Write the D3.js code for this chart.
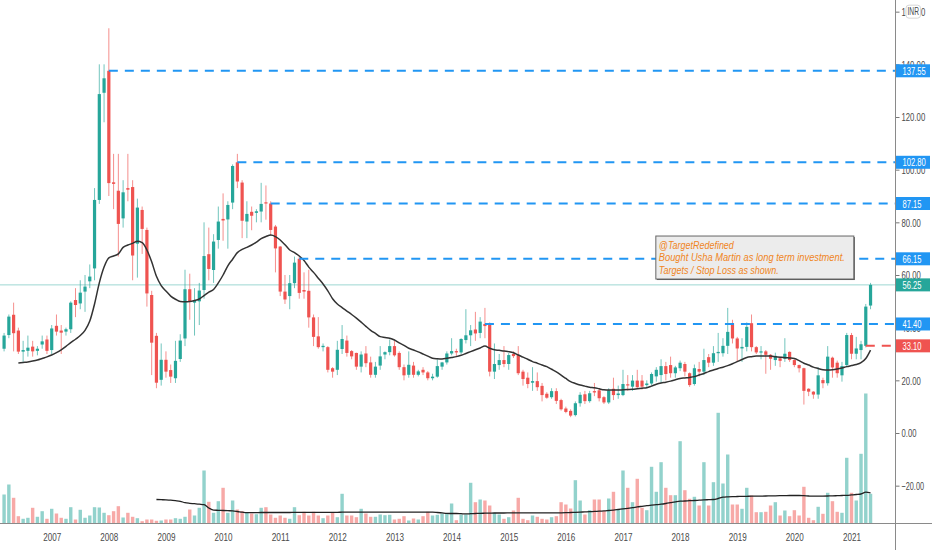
<!DOCTYPE html>
<html>
<head>
<meta charset="utf-8">
<script src="https://cdn.jsdelivr.net/npm/d3@7"></script>
<style>
body { margin: 0; background: #fff; }
svg { display: block; }
.axis text { font-family: "Liberation Sans", Arial, sans-serif; fill: #4a4a4a; }
</style>
</head>
<body>
<svg width="932" height="550"></svg>
<script>
// monthly candles, Mar 2006 .. May 2021
var firstMonth = new Date(2006, 2, 1);

var open = [32,37.2,44.9,38.9,30.9,31.2,32.8,31.2,33.6,35.5,
	31.5,40.7,38.9,38.5,39.4,50.5,49.2,53.7,57.6,62.5,
	88.5,129.2,137.55,95.2,92,81.5,93,93.4,71.9,84.7,
	77.1,52.4,36.9,20.2,27.8,23.9,20.8,28.1,35.9,54.6,
	49.5,50,54.3,67.9,61.9,73.3,81.3,81.1,87.5,102.8,
	95.1,80.3,84,83.6,84.1,87.6,87.15,78.4,70.8,53.7,
	52,56.9,66.15,54.3,54,43.9,36.7,32.6,32.6,24.6,
	24,31.9,35.1,31.1,30.4,25.2,30.2,26.8,22.1,25.6,
	29.8,30.7,33,30.4,25,22.1,25.6,22.1,24,23,
	20.8,21.4,25.2,26.8,30.2,31.1,30.6,35.3,37.1,39.3,
	38,41.4,41.4,23.3,25.8,27.7,26.2,30,29.6,23.3,
	21,19.1,19.7,17.9,14.9,13.6,15.9,12.5,9.3,8.4,
	6.8,11.3,14.7,12.1,15.9,16.2,13.6,11.6,16.8,14.4,
	14.4,18.5,17.6,19.9,19.9,18.2,18.8,21.5,22,25.4,
	25.8,22.7,24.6,26.2,22.7,18.6,24.3,23.3,28.8,26.7,
	30.3,30.3,33.1,41.7,35.9,32.1,32.7,41.7,32.6,30.6,
	31,29.7,27.7,28.4,28.2,30.8,27.7,25.8,24.6,16.8,
	15.7,14.6,20.1,18.9,28.6,26.7,21.9,25.8,37.2,30.1,
	31.5,33.1,48.4];

var high = [38,45,49.5,40,35,37,35,33,37,37,
	41,45,41,40,50,55,58,60,64,93,
	140,140,153.7,106,106,96,106,96,89,86,
	78,54,38,34,31,26,35,37.5,62,60.5,
	55,57,80,78,75.5,86,91,88,102,106,
	96,88,86,85,95,94,88,79,71,60,
	60,67,67,61,62,45,44,34,33,25,
	35,41,37,31.5,30.5,31,33,29,27,33,
	31,35.5,35,31,26,31,27,24,25,23.5,
	22.5,28,27,31,36,32,36,47,41,46,
	44,47.5,42,34,30,33,30.5,31,33,24,
	23,25,23,19,15.5,17,17,13,10,9,
	12,15.5,16,16,19,17,14,17,21,18,
	24,22,22,24,22,20,23,25,28,27,
	29,25.5,27.5,27,23,26,27,32,30,33,
	38,36,47.5,43,36.5,36,42,45,33,33,
	31.5,30,30.5,29,36,31,28,26,24.8,17,
	15.9,25,21,33,29,27.5,27,38,38,36.5,
	35,49,57];

var low = [31,36,31,30,27,29,29,29.5,32,30,
	30,37,30,37,38,44,47,46,55,58,
	87,118,90,85,67,78,88,58,59,68,
	48,22,17,18,21,19,19,27,33,43,
	37,41,51,58,57,70,73,70,85,93,
	74,74,77,80,80,81,75,61,52,49,
	47,55,51,51,40,33,32,31,23,21,
	22,30,29,28,24,23,25,21,21,24,
	28,29.5,29,24,20,21,21,21.5,22,20,
	20,21,24,26,29.5,29,30,34,33,35,
	36,36,21.5,20.5,24,25,24,28.5,22,18,
	17,16,16,12,13,13,11,8.5,7.5,6,
	6.3,10,11,11.5,14,12,11,11,12.5,13,
	14,16,16,17,16.5,17,18,19.5,19,20,
	21,21,23.5,21.5,17.5,18,21.5,22,25,25.5,
	27,29,30,34,27,27,31,31,30,28,
	22.5,24,25.5,25,27,27,25,23,10.8,14,
	13,13,17,18,21,21,19.5,25,28,28,
	28,32.5,47];

var close = [37,44.2,37.9,30.9,31.5,32.4,31,32,34.8,31.2,
	39.7,38.5,38.1,39.4,49.5,48.6,53.3,55.6,59.4,88.5,
	128.7,134.7,94.9,94.6,79.4,91.4,92.4,67.4,85.6,77.5,
	53,34.3,19.1,27.8,23.3,21.4,27.4,35.1,54.6,50,
	50.5,54.1,67.2,62.3,72.7,80.3,80.7,86.6,101.4,95.5,
	80.6,83.2,82.5,84.2,87,87.2,77.1,70.1,53.7,50.7,
	56.9,64.7,53.2,53.7,43.9,36.5,32.6,33.1,24,23.3,
	31.6,35.7,30.4,29.1,25.2,29.8,26.5,22.1,25.2,29.1,
	30.7,33,29.5,25,21.9,25.9,22.1,23.4,23,20.8,
	21.4,25.4,26.8,30.2,31.1,30.6,35.7,37.1,39,37.8,
	42.3,40.6,23.3,26.2,27.7,26.2,29.6,29.2,22.7,20.5,
	18.6,19.7,17.4,14.4,13.4,15.9,12.2,9,8,6.6,
	11.3,14.5,12.1,15.1,15.4,13.2,11.6,16.2,14.4,15,
	18.6,18.1,19.9,17.4,17.6,18.8,22.4,24,25.4,22.4,
	22.7,24.9,26.7,23.3,18.2,24.6,23.3,27.7,26.7,30.3,
	30.8,33.1,38.4,35.9,32.1,32.7,40.3,32.6,30.6,31,
	29.7,28.2,29.3,27.4,30.1,27.7,25.8,24.6,16,15.7,
	14.6,21.9,18.9,29,24.9,22.7,25.4,37.2,30.1,32.1,
	33.7,48,56.25];

var volume = [29,39,25.7,7.3,4.7,5.7,15.7,6.7,12.3,4.7,
	14.7,10,5.7,4.7,16.3,4,13.7,5.7,8,16.3,
	16,10.7,8.3,12.3,17.3,6,10.7,6.7,5.3,2.3,
	4,4,2.7,3,4,4,5.3,4.7,6.7,14,
	8,15.7,53,21.7,10.7,22.3,35.7,10.7,23,14,
	12.3,10.7,10,9.3,15.7,16.3,9,5.7,8,5.7,
	4.7,16.3,8.3,11.7,8,11.7,8,5.3,8,11.3,
	6.3,29.7,8,8,6.3,14.7,10,6.7,6.7,9,
	8.3,8.7,4,4.7,7.3,3,5,4,7.3,11.7,
	8,8.7,10,10,20,3.3,9,9,40.7,21.3,
	24,23,18,10.7,9,4.7,6.3,13,25.7,4.7,
	3.3,8,6.7,4.7,4,6.3,7.3,21.3,19,15,
	43.3,23,9,13.3,24,24,12.3,25,31.7,14,
	53,35.7,21.3,44.7,15.7,13.3,56.7,31.7,61.3,35.7,
	28.3,28.3,82.3,33.3,24.7,26.7,18,61.3,18,41.3,
	110.7,40,69,19,19,14.7,35.7,28,11.3,11.3,
	11.7,18,21.3,8,13,7.3,13.3,8,36.7,5.7,
	3.3,16.7,9.7,30.7,22.3,11.7,10.7,65.7,30.7,23,
	69.7,130,29.7];

// moving average of price
var priceMa = [null,null,null,26.6,26.8,27.0,27.3,27.7,28.3,28.9,
	29.6,30.5,31.6,32.9,34.3,35.6,37.0,39.0,42.5,49,
	57,63,66.5,67.2,68,70.5,71.4,72,72.8,72.3,
	69.5,65,59.5,56,53.9,52,50.8,49.9,49.8,49.9,
	50.3,50.9,52.2,53.5,54.5,57,60,63.5,66,68.5,
	69.7,70.5,71.4,72.5,73.8,74.6,75.2,74.6,73.3,71.5,
	69.5,68.5,67.2,65.5,63,61,58.8,56.6,54,51,
	49,47.6,46.3,45,43.6,42.1,40.5,39,37.8,36.6,
	36.3,36,35.3,34.2,33.3,32.2,31.5,30.8,30,29.2,
	28.4,28.2,28.1,28.4,28.7,29,29.5,30.2,30.9,31.6,
	32.3,33,32.2,31.6,31.4,31.1,30.9,30.5,29.6,28.8,
	28,27.1,26.5,25.8,25.2,24.2,23.2,22,20.7,19.5,
	18.8,18.2,17.8,17.4,17.2,16.8,16.4,16.3,16.3,16.3,
	16.4,16.5,16.6,16.8,17,17.2,17.8,18.5,19,19.3,
	19.7,20.2,20.7,20.9,21.1,21.4,22,22.6,23.3,23.9,
	24.5,25,25.6,26.3,27.1,27.9,28.7,29,29.2,29.2,
	29.2,29.2,29,28.8,28.6,28.5,28.3,27.5,26.5,25.8,
	25,24.5,24,23.9,24,24.3,24.7,25.2,25.6,26,
	26.7,28.3,31.5];

// moving average of volume, starts Nov 2008
var volMaStart = 32;
var volMa = [24,23.8,23.6,23.3,22.8,22.2,20.8,20.2,
	19.8,19.3,18.8,15.5,13.4,13.2,13,12.8,12.6,12,
	11.3,10.8,10.8,10.9,11,11,11,11,11,11,
	11,11.1,11.1,11.1,11.1,11.1,11.2,11.2,11.2,11.2,
	11.2,11.3,11.3,11.3,11.3,11.3,11.3,11.3,11.3,11.3,
	11.3,11.3,11.3,11.3,11.3,11.3,11.3,11.3,11.3,11.3,
	11.3,11,10.6,10.2,10,10,9.8,9.6,9.8,10,
	10.2,10.3,10.4,10.5,10.5,10.5,10.6,10.7,10.7,10.7,
	10.7,10.7,10.7,10.7,10.7,10.7,10.7,10.7,10.8,11,
	11.2,11.4,11.6,11.8,12.1,12.3,12.6,13,13.4,14,
	14.6,15.2,15.8,16.6,17.2,17.8,18.3,18.8,19.3,20,
	20.8,21.6,22.3,22.5,22.8,23,23.3,23.6,23.8,24,
	25,26.3,26.7,26.9,27,27.1,27.2,27.3,27.3,27.4,
	27.5,27.6,27.7,27.8,27.9,28,28,28,27.8,27.5,
	27.3,27.3,27.4,27.5,27.6,27.8,28,28.2,28.6,29,
	29.5,31.3,30.7];

// target levels (price, month index where the line starts)
var targets = [137.55, 102.80, 87.15, 66.15, 41.40];
var targetFrom = [22, 49, 56, 62, 101];
var stopLoss = 33.10, stopFrom = 181;
var lastPrice = 56.25;

var yTicks = [-20, 0, 20, 40, 60, 80, 100, 120, 140, 160];
var noteLines = ["@TargetRedefined", "Bought Usha Martin as long term investment.", "Targets / Stop Loss as shown."];
var noteWidths = [75, 186, 120];

var teal = "#26a69a", red = "#ef5350", blue = "#2196f3";

var svg = d3.select("svg"),
	width = +svg.attr("width"),
	height = +svg.attr("height"),
	axisX = 895.5,
	axisY = 523.5;

var x = d3.scaleLinear().domain([10, 178]).range([51.7, 851.5]);
var y = d3.scaleLinear().domain([0, 120]).range([433, 117]);
var vy = d3.scaleLinear().domain([0, 130]).range([axisY, axisY - 130]);

var data = open.map(function(o, i) {
	return {i: i, date: d3.timeMonth.offset(firstMonth, i), o: o, h: high[i], l: low[i], c: close[i], v: volume[i], ma: priceMa[i]};
});
function up(d) { return d.c >= d.o; }

// narrow the axis digits the way the chart font does
function squeeze(sel, digit) {
	sel.each(function() {
		var t = d3.select(this), s = t.text(), w = 0;
		for (var k = 0; k < s.length; k++) {
			w += s[k] === "." ? 1.7 : (s[k] === "\u2212" || s[k] === "-") ? 3.2 : digit;
		}
		t.attr("textLength", w).attr("lengthAdjust", "spacingAndGlyphs");
	});
}

// volume
svg.append("g").selectAll("rect")
	.data(data).enter().append("rect")
	.attr("x", function(d) { return x(d.i) - 1.7; })
	.attr("width", 3.4)
	.attr("y", function(d) { return vy(d.v); })
	.attr("height", function(d) { return vy(0) - vy(d.v); })
	.attr("fill", function(d) { return up(d) ? teal : red; })
	.attr("fill-opacity", 0.5);

var volLine = d3.line()
	.x(function(d, k) { return x(volMaStart + k); })
	.y(function(d) { return vy(d); })
	.curve(d3.curveMonotoneX);
svg.append("path").attr("d", volLine(volMa))
	.attr("fill", "none").attr("stroke", "#222").attr("stroke-width", 1.3);

// last price line
svg.append("line")
	.attr("x1", 0).attr("x2", axisX)
	.attr("y1", y(lastPrice)).attr("y2", y(lastPrice))
	.attr("stroke", teal).attr("stroke-opacity", 0.45).attr("stroke-width", 1);

// candles
var candle = svg.append("g").selectAll("g")
	.data(data).enter().append("g");
candle.append("line")
	.attr("x1", function(d) { return x(d.i); })
	.attr("x2", function(d) { return x(d.i); })
	.attr("y1", function(d) { return y(d.h); })
	.attr("y2", function(d) { return y(d.l); })
	.attr("stroke", function(d) { return up(d) ? teal : red; })
	.attr("stroke-opacity", 0.65)
	.attr("stroke-width", 1);
candle.append("rect")
	.attr("x", function(d) { return x(d.i) - 1.6; })
	.attr("width", 3.2)
	.attr("y", function(d) { return y(Math.max(d.o, d.c)); })
	.attr("height", function(d) { return Math.max(1.2, Math.abs(y(d.o) - y(d.c))); })
	.attr("fill", function(d) { return up(d) ? teal : red; });

// moving average
var maLine = d3.line()
	.defined(function(d) { return d.ma != null; })
	.x(function(d) { return x(d.i); })
	.y(function(d) { return y(d.ma); })
	.curve(d3.curveMonotoneX);
svg.append("path").attr("d", maLine(data))
	.attr("fill", "none").attr("stroke", "#333").attr("stroke-width", 1.5);

// target and stop loss lines
var levels = targets.map(function(t, k) { return {v: t, from: targetFrom[k], color: blue}; });
levels.push({v: stopLoss, from: stopFrom, color: red});
svg.append("g").selectAll("line")
	.data(levels).enter().append("line")
	.attr("x1", function(d) { return x(d.from); })
	.attr("x2", axisX)
	.attr("y1", function(d) { return y(d.v); })
	.attr("y2", function(d) { return y(d.v); })
	.attr("stroke", function(d) { return d.color; })
	.attr("stroke-width", 2)
	.attr("stroke-dasharray", "9,7");

// note box
var noteG = svg.append("g")
	.attr("transform", "translate(" + x(136.9) + "," + y(74.8) + ")");
noteG.append("rect")
	.attr("x", 1).attr("y", 1).attr("width", 198).attr("height", 43)
	.attr("fill", "#555");
noteG.append("rect")
	.attr("width", 198).attr("height", 43)
	.attr("fill", "#ececec").attr("stroke", "#666").attr("stroke-width", 1);
noteG.selectAll("text")
	.data(noteLines).enter().append("text")
	.attr("x", 3)
	.attr("y", function(d, k) { return 12.5 + k * 12.5; })
	.attr("textLength", function(d, k) { return noteWidths[k]; })
	.attr("lengthAdjust", "spacingAndGlyphs")
	.style("font-family", "'Liberation Sans', Arial, sans-serif")
	.style("font-style", "italic")
	.style("font-size", "11.5px")
	.attr("fill", "#f0851d")
	.text(function(d) { return d; });

// axes
var yAxis = d3.axisRight(y).tickValues(yTicks).tickSize(4).tickPadding(2)
	.tickFormat(d3.format(".2f"));
var gy = svg.append("g").attr("class", "axis")
	.attr("transform", "translate(" + axisX + ",0)")
	.call(yAxis);
gy.select(".domain").remove();
gy.selectAll(".tick line").attr("stroke", "#777");
gy.selectAll(".tick text").style("font-size", "11.5px");
squeeze(gy.selectAll(".tick text"), 4.4);

var yearTicks = data.filter(function(d) { return d.date.getMonth() === 0; }).map(function(d) { return d.i; });
var xAxis = d3.axisBottom(x).tickValues(yearTicks).tickSize(0).tickPadding(10)
	.tickFormat(function(i) { return d3.timeFormat("%Y")(d3.timeMonth.offset(firstMonth, i)); });
var gx = svg.append("g").attr("class", "axis")
	.attr("transform", "translate(0," + axisY + ")")
	.call(xAxis);
gx.select(".domain").remove();
gx.selectAll(".tick text").style("font-size", "10.5px");
squeeze(gx.selectAll(".tick text"), 4.5);

svg.append("line").attr("x1", axisX).attr("x2", axisX).attr("y1", 0).attr("y2", height)
	.attr("stroke", "#8a8a8a");
svg.append("line").attr("x1", 0).attr("x2", width).attr("y1", axisY).attr("y2", axisY)
	.attr("stroke", "#8a8a8a");

// price labels on the axis
var tags = levels.map(function(d) { return {v: d.v, color: d.color}; });
tags.push({v: lastPrice, color: teal});
var tag = svg.append("g").selectAll("g")
	.data(tags).enter().append("g")
	.attr("transform", function(d) { return "translate(" + (axisX + 0.5) + "," + y(d.v) + ")"; });
tag.append("rect")
	.attr("x", 0).attr("y", -6.5).attr("width", 34).attr("height", 13)
	.attr("fill", function(d) { return d.color; });
var tagText = tag.append("text")
	.attr("x", 6.5).attr("y", 4.2)
	.style("font-family", "'Liberation Sans', Arial, sans-serif")
	.style("font-size", "11.5px")
	.attr("fill", "#fff")
	.text(function(d) { return d3.format(".2f")(d.v); });
squeeze(tagText, 4.3);

// currency badge
var cur = svg.append("g").attr("transform", "translate(" + (axisX + 10.5) + "," + y(160) + ")");
cur.append("rect").attr("x", 0).attr("y", -6.5).attr("width", 14.5).attr("height", 13).attr("rx", 3)
	.attr("fill", "#fff").attr("stroke", "#d6d6d6");
var curText = cur.append("text").attr("x", 1.5).attr("y", 3.8)
	.style("font-family", "'Liberation Sans', Arial, sans-serif")
	.style("font-size", "10.5px").attr("fill", "#4a4a4a")
	.text("INR");
curText.attr("textLength", 11.5).attr("lengthAdjust", "spacingAndGlyphs");
</script>
</body>
</html>
